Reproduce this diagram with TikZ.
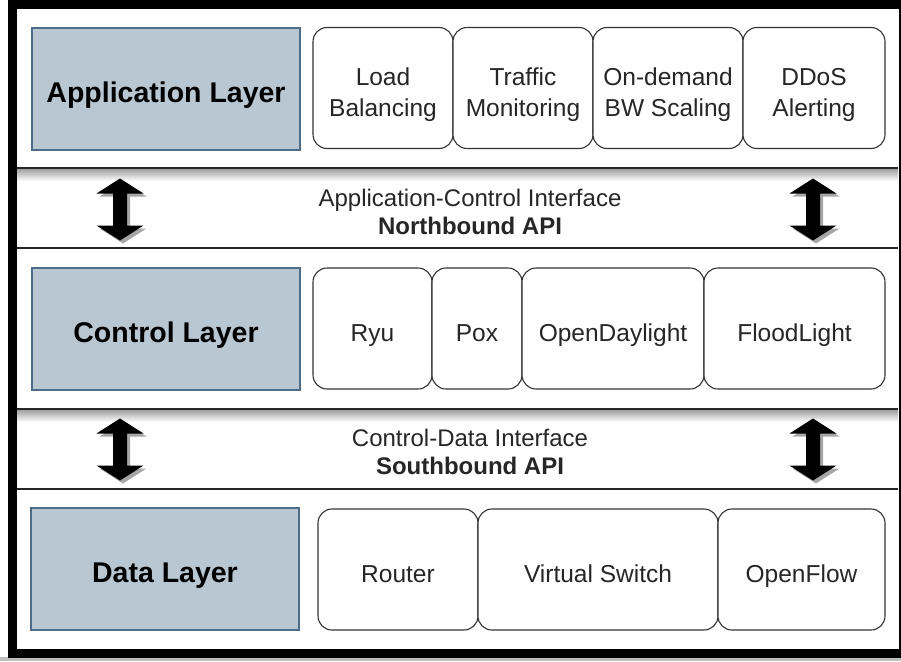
\documentclass[tikz,border=0pt]{standalone}
\usepackage{fontspec}
\setmainfont{Liberation Sans}
\usetikzlibrary{shadows}

\definecolor{layerfill}{RGB}{185,199,210}
\definecolor{layerdraw}{RGB}{78,108,135}

\tikzset{
  layer/.style={draw=layerdraw, fill=layerfill, line width=1.2pt, minimum width=268, minimum height=122, inner sep=0pt, text height=27pt, text depth=0pt, font=\fontsize{28.5}{32}\selectfont\bfseries},
  tool/.style={draw=black!80, fill=white, rounded corners=14pt, line width=1.1pt, minimum height=121, inner sep=0pt, align=center, text=black!85, font=\fontsize{24.5}{31.5}\selectfont},
  oneline/.style={text height=25pt, text depth=0pt},
  twoline/.style={text height=57pt, text depth=0pt},
  iface/.style={align=center, text=black!85, font=\fontsize{24}{28.5}\selectfont},
  updown/.style={fill=black, drop shadow={shadow xshift=3pt, shadow yshift=-3pt, opacity=.35, fill=black}}
}

\begin{document}
\begin{tikzpicture}[x=1pt,y=-1pt]
\useasboundingbox (0,0) rectangle (901,661);
\clip (0,0) rectangle (901,661);
\fill[white] (0,0) rectangle (901,661);
\fill[black!25] (0,657) rectangle (901,661);

% Interface bands
\shade[top color=black!40, bottom color=white] (17,168) rectangle (898,181);
\shade[top color=black!40, bottom color=white] (17,409) rectangle (898,422);
\foreach \y in {168,248,409,489}
  \draw[line width=1.5pt, black!85] (17,\y) -- (898,\y);

% Frame
\draw[line width=9pt] (12.5,4.5) rectangle (903,653);

% Layers
\node[layer] (app) at (166,89) {Application Layer};
\node[layer] (ctl) at (166,329) {Control Layer};
\node[layer] (dat) at (165,569) {Data Layer};

% Application layer
\node[tool, twoline, minimum width=140] (lb) at (383,88) {Load\\Balancing};
\node[tool, twoline, minimum width=140] (tm) at (523,88) {Traffic\\Monitoring};
\node[tool, twoline, minimum width=150] (bw) at (668,88) {On-demand\\BW Scaling};
\node[tool, twoline, minimum width=142] (dd) at (814,88) {DDoS\\Alerting};

% Control layer
\node[tool, oneline, minimum width=119] (ryu) at (372.5,328.5) {Ryu};
\node[tool, oneline, minimum width=90] (pox) at (477,328.5) {Pox};
\node[tool, oneline, minimum width=182] (odl) at (613,328.5) {OpenDaylight};
\node[tool, oneline, minimum width=181] (fl) at (794.5,328.5) {FloodLight};

% Data layer
\node[tool, oneline, minimum width=160] (rt) at (398,569.5) {Router};
\node[tool, oneline, minimum width=240] (vs) at (598,569.5) {Virtual Switch};
\node[tool, oneline, minimum width=167] (of) at (801.5,569.5) {OpenFlow};

% Interfaces
\node[iface] (nb) at (470,212) {Application-Control Interface\\\textbf{Northbound API}};
\node[iface] (sb) at (470,452) {Control-Data Interface\\\textbf{Southbound API}};

% Arrows
\foreach \x/\y in {120/209.5, 813/209.5, 120/449.5, 813/449.5}
  \fill[updown, shift={(\x,\y)}] (0,-31) -- (23.5,-16) -- (7,-16) -- (7,16) -- (23.5,16)
    -- (0,31) -- (-23.5,16) -- (-7,16) -- (-7,-16) -- (-23.5,-16) -- cycle;
\end{tikzpicture}
\end{document}
